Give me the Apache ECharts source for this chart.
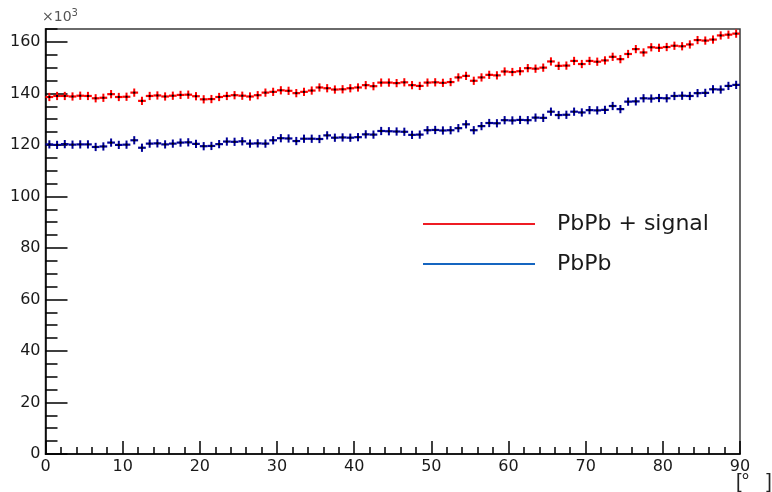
<!DOCTYPE html>
<html>
  <head>
    <meta http-equiv="Content-Type" content="text/html; charset=utf-8" />
    <title></title>
    <script src="https://cdn.jsdelivr.net/npm/echarts@6/dist/echarts.min.js"></script>
    <style>
      html, body { margin: 0; padding: 0; background: #fff; }
    </style>
  </head>
  <body>
    <div id="hist" style="width: 772px; height: 492px"></div>

    <script>
      // bin contents in units of 10^3, 90 bins of 1 degree (0..90)
      var signalCounts = [
        138.6, 139.0, 139.0, 138.8, 139.1, 139.0, 138.1, 138.3, 139.7, 138.6,
        138.7, 140.3, 137.1, 139.0, 139.2, 138.8, 139.1, 139.4, 139.5, 138.9,
        137.7, 137.8, 138.6, 139.0, 139.3, 139.1, 138.8, 139.3, 140.3, 140.6,
        141.2, 141.0, 140.1, 140.6, 141.1, 142.3, 142.0, 141.5, 141.6, 142.0,
        142.3, 143.2, 142.8, 144.2, 144.2, 144.0, 144.3, 143.2, 142.9, 144.2,
        144.3, 144.1, 144.4, 146.2, 146.8, 144.9, 146.2, 147.2, 147.0, 148.5,
        148.3, 148.6, 149.8, 149.6, 150.0, 152.4, 150.7, 150.8, 152.6, 151.4,
        152.6, 152.3, 152.8, 154.2, 153.3, 155.3, 157.2, 155.9, 157.9, 157.7,
        158.0, 158.5, 158.3, 159.0, 160.7, 160.5, 160.9, 162.5, 162.8, 163.2
      ];
      var bkgCounts = [
        120.2, 120.0, 120.3, 120.1, 120.2, 120.2, 119.2, 119.4, 120.9, 120.0,
        120.1, 121.8, 118.9, 120.5, 120.6, 120.2, 120.5, 120.9, 121.0, 120.4,
        119.5, 119.6, 120.3, 121.3, 121.2, 121.4, 120.5, 120.6, 120.5, 121.8,
        122.6, 122.5, 121.5, 122.4, 122.4, 122.3, 123.7, 122.8, 122.9, 122.8,
        123.0, 124.1, 124.0, 125.4, 125.3, 125.2, 125.1, 123.9, 124.0, 125.7,
        125.8, 125.6, 125.7, 126.5, 128.0, 125.7, 127.3, 128.5, 128.4, 129.6,
        129.5, 129.7, 129.6, 130.6, 130.5, 132.9, 131.6, 131.7, 132.9, 132.6,
        133.5, 133.4, 133.6, 135.1, 133.9, 136.8, 136.9, 138.1, 138.0, 138.2,
        138.1, 139.0, 139.1, 139.0, 140.1, 140.2, 141.6, 141.5, 142.9, 143.3
      ];
      var seriesNames = ['PbPb + signal', 'PbPb'];
      var binWidth = 1;
      var errHalf = 1.6; // half height of drawn error bar, 10^3

      var histColors = ['#ff0000', '#000099'];
      var legendColors = ['#ee1c24', '#1565c0'];

      function toBins(arr) {
        var out = [];
        for (var i = 0; i < arr.length; i++) {
          out.push([(i + 0.5) * binWidth, arr[i]]);
        }
        return out;
      }

      function histItem(color) {
        return function (params, api) {
          var xc = api.value(0), v = api.value(1);
          var pl = api.coord([xc - binWidth / 2, v]);
          var pr = api.coord([xc + binWidth / 2, v]);
          var pt = api.coord([xc, v + errHalf]);
          var pb = api.coord([xc, v - errHalf]);
          return {
            type: 'group',
            children: [
              { type: 'line', shape: { x1: pl[0], y1: pl[1], x2: pr[0], y2: pr[1] },
                style: { stroke: color, lineWidth: 2.2 } },
              { type: 'line', shape: { x1: pt[0], y1: pt[1], x2: pb[0], y2: pb[1] },
                style: { stroke: color, lineWidth: 2 } },
              { type: 'rect', shape: { x: pt[0] - 1, y: pl[1] - 1, width: 2, height: 2 },
                style: { fill: '#000' } }
            ]
          };
        };
      }

      var myChart1 = echarts.init(document.getElementById('hist'));

      var axisFont = { fontFamily: 'DejaVu Sans', fontSize: 16, color: '#1a1a1a' };

      var option = {
        animation: false,
        backgroundColor: '#fff',
        grid: {
          left: 45.5, right: 32, top: 29, bottom: 38,
          show: true, borderColor: '#3a3a3a', borderWidth: 1.5
        },
        legend: {
          orient: 'vertical',
          left: 423, top: 213,
          padding: 0,
          itemWidth: 112, itemHeight: 2, itemGap: 18,
          textStyle: { fontFamily: 'DejaVu Sans', fontSize: 22, color: '#1a1a1a', padding: [0, 0, 0, 17] },
          data: [
            { name: seriesNames[0], icon: 'rect', itemStyle: { color: legendColors[0] } },
            { name: seriesNames[1], icon: 'rect', itemStyle: { color: legendColors[1] } }
          ]
        },
        xAxis: {
          type: 'value', min: 0, max: 90, interval: 10,
          axisLine: { lineStyle: { color: '#000', width: 1.5 } },
          axisTick: { inside: true, length: 13, lineStyle: { color: '#000', width: 1.5 } },
          minorTick: { show: true, splitNumber: 5, length: 7, lineStyle: { color: '#000', width: 1.5 } },
          splitLine: { show: false },
          axisLabel: Object.assign({ margin: 5 }, axisFont)
        },
        yAxis: [
          {
            type: 'value', min: 0, max: 165, interval: 20,
            axisLine: { lineStyle: { color: '#000', width: 1.5 } },
            axisTick: { inside: true, length: 22, lineStyle: { color: '#000', width: 1.5 } },
            splitLine: { show: false },
            axisLabel: Object.assign({ margin: 5, showMaxLabel: false }, axisFont)
          },
          {
            type: 'value', min: 0, max: 165, interval: 5, position: 'left',
            axisLine: { show: false },
            axisTick: { inside: true, length: 12, lineStyle: { color: '#000', width: 1.5 } },
            splitLine: { show: false },
            axisLabel: { show: false }
          }
        ],
        graphic: [
          {
            type: 'text', left: 42, top: 8,
            style: {
              text: '×10{s|3}',
              fontFamily: 'DejaVu Sans', fontSize: 14, fill: '#555',
              rich: { s: { fontFamily: 'DejaVu Sans', fontSize: 10, fill: '#555', verticalAlign: 'top', padding: [0, 0, 8, 0] } }
            }
          },
          {
            type: 'text', left: 736, top: 472,
            style: { text: '[°   ]', fontFamily: 'Liberation Sans', fontSize: 20, fill: '#222' }
          }
        ],
        series: [
          {
            name: seriesNames[0], type: 'custom', yAxisIndex: 0,
            itemStyle: { color: legendColors[0] },
            renderItem: histItem(histColors[0]),
            encode: { x: 0, y: 1 },
            data: toBins(signalCounts)
          },
          {
            name: seriesNames[1], type: 'custom', yAxisIndex: 0,
            itemStyle: { color: legendColors[1] },
            renderItem: histItem(histColors[1]),
            encode: { x: 0, y: 1 },
            data: toBins(bkgCounts)
          }
        ]
      };

      myChart1.setOption(option);
    </script>
  </body>
</html>
